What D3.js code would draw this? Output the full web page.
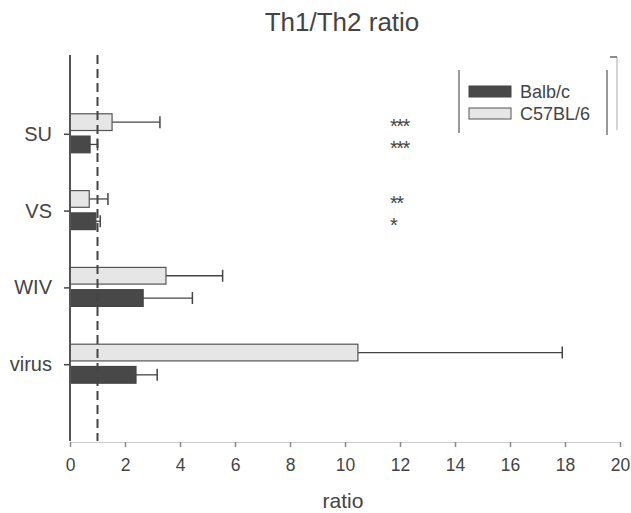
<!DOCTYPE html>
<html><head><meta charset="utf-8">
<script src="https://cdn.jsdelivr.net/npm/d3@7"></script>
<style>body{margin:0;background:#fff;} text{font-family:"Liberation Sans",Arial,sans-serif;fill:#444;}</style>
</head><body>
<svg id="c" width="631" height="513"></svg>
<script>
const categories = ["SU", "VS", "WIV", "virus"];
const seriesNames = ["C57BL/6", "Balb/c"];
const c57Values = [1.53, 0.7, 3.49, 10.47];
const c57Errors = [1.74, 0.68, 2.06, 7.43];
const balbValues = [0.73, 0.94, 2.66, 2.4];
const balbErrors = [0.27, 0.16, 1.79, 0.77];
const c57Stars = ["***", "**", "", ""];
const balbStars = ["***", "*", "", ""];
const xTicks = [0, 2, 4, 6, 8, 10, 12, 14, 16, 18, 20];
const refLine = 1;

const svg = d3.select("#c");
const x = d3.scaleLinear().domain([0, 20]).range([70, 620]);
const y = d3.scalePoint().domain(categories).range([57, 441]).padding(1);
const sub = d3.scaleBand().domain(seriesNames).range([-20, 19]).paddingInner(0.25);

const series = [
  {name: "C57BL/6", vals: c57Values, errs: c57Errors, stars: c57Stars, fill: "#e6e6e6", stroke: "#555"},
  {name: "Balb/c", vals: balbValues, errs: balbErrors, stars: balbStars, fill: "#484848", stroke: "#444"}
];

// title
svg.append("text").attr("x", 342).attr("y", 31).attr("text-anchor", "middle")
  .style("font-size", "26px").text("Th1/Th2 ratio");

// bars
series.forEach(s => {
  const g = svg.append("g");
  categories.forEach((cat, i) => {
    const yc = y(cat) + sub(s.name);
    const h = sub.bandwidth();
    g.append("line").attr("x1", x(s.vals[i])).attr("x2", x(s.vals[i] + s.errs[i]))
      .attr("y1", yc + h / 2).attr("y2", yc + h / 2).attr("stroke", "#444").attr("stroke-width", 1.3);
    g.append("line").attr("x1", x(s.vals[i] + s.errs[i])).attr("x2", x(s.vals[i] + s.errs[i]))
      .attr("y1", yc + h / 2 - 6).attr("y2", yc + h / 2 + 6).attr("stroke", "#444").attr("stroke-width", 1.5);
    g.append("rect").attr("x", x(0)).attr("y", yc).attr("width", x(s.vals[i]) - x(0)).attr("height", h)
      .attr("fill", s.fill).attr("stroke", s.stroke).attr("stroke-width", 1.2);
    if (s.stars[i]) {
      g.append("text").attr("x", 390).attr("y", yc + h / 2 + 11).style("font-size", "20px")
        .style("letter-spacing", "-1.5px").text(s.stars[i]);
    }
  });
});

// dashed reference line
svg.append("line").attr("x1", x(refLine)).attr("x2", x(refLine)).attr("y1", 55).attr("y2", 441)
  .attr("stroke", "#444").attr("stroke-width", 2).attr("stroke-dasharray", "9,5");

// y axis
const yAxis = svg.append("g").attr("transform", "translate(70,0)")
  .call(d3.axisLeft(y).tickSize(6).tickPadding(12));
yAxis.select(".domain").remove();
yAxis.append("line").attr("x1", 0).attr("x2", 0).attr("y1", 55).attr("y2", 441)
  .attr("stroke", "#555").attr("stroke-width", 2);
yAxis.selectAll(".tick line").attr("stroke", "#444").attr("stroke-width", 1.5);
yAxis.selectAll(".tick text").style("font-size", "20px").style("font-family", "Liberation Sans, Arial, sans-serif").attr("fill", "#444");

// x axis
const xAxis = svg.append("g").attr("transform", "translate(0,442)")
  .call(d3.axisBottom(x).tickValues(xTicks).tickSize(5).tickPadding(12).tickFormat(d3.format("d")));
xAxis.select(".domain").attr("stroke", "#ccc").attr("stroke-width", 1);
xAxis.selectAll(".tick line").attr("stroke", "#888").attr("stroke-width", 1.5);
xAxis.selectAll(".tick text").style("font-size", "17.5px").style("font-family", "Liberation Sans, Arial, sans-serif").attr("fill", "#444");

svg.append("text").attr("x", 343).attr("y", 508).attr("text-anchor", "middle")
  .style("font-size", "21px").text("ratio");

// legend
const lg = svg.append("g");
lg.append("line").attr("x1", 459).attr("x2", 459).attr("y1", 70).attr("y2", 133).attr("stroke", "#777").attr("stroke-width", 1.5);
lg.append("line").attr("x1", 607).attr("x2", 607).attr("y1", 70).attr("y2", 135).attr("stroke", "#777").attr("stroke-width", 1.5);
lg.append("line").attr("x1", 617).attr("x2", 617).attr("y1", 57).attr("y2", 130).attr("stroke", "#aaa").attr("stroke-width", 1);
lg.append("line").attr("x1", 610).attr("x2", 617).attr("y1", 57).attr("y2", 57).attr("stroke", "#666").attr("stroke-width", 1.5);
const legendItems = [series[1], series[0]];
legendItems.forEach((s, i) => {
  lg.append("rect").attr("x", 469).attr("y", 86 + i * 22).attr("width", 42).attr("height", 11)
    .attr("fill", s.fill).attr("stroke", s.stroke).attr("stroke-width", 1);
  lg.append("text").attr("x", 520).attr("y", 98 + i * 22).style("font-size", "18px").text(s.name);
});
</script>
</body></html>
